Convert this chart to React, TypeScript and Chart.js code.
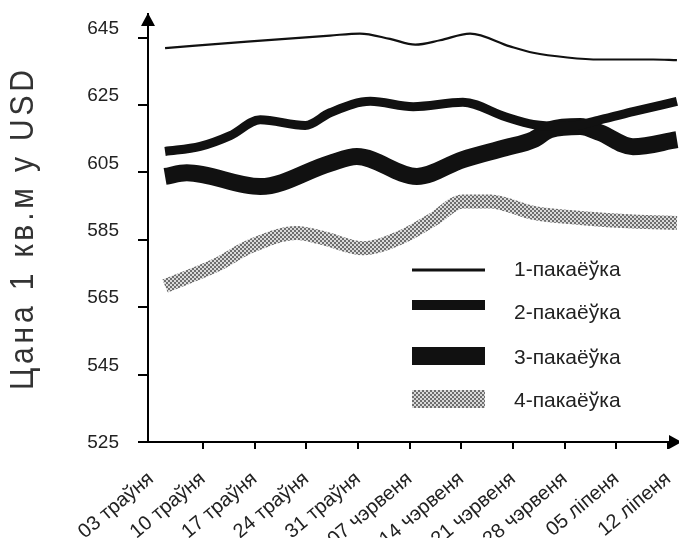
import React, { useEffect, useRef } from 'react';
import { Chart, registerables } from 'chart.js';

Chart.register(...registerables);

// ---------- data ----------
const weekLabels = [
  '03 траўня', '10 траўня', '17 траўня', '24 траўня', '31 траўня',
  '07 чэрвеня', '14 чэрвеня', '21 чэрвеня', '28 чэрвеня', '05 ліпеня', '12 ліпеня',
];
const seriesNames = ['1-пакаёўка', '2-пакаёўка', '3-пакаёўка', '4-пакаёўка'];
const yTickValues = [525, 545, 565, 585, 605, 625, 645];
const yTitle = 'Цана 1 кв.м у USD';

// x = week index since 03 траўня
const s1Weeks = [0.27, 1.86, 3.46, 4.04, 4.62, 5.11, 5.59, 6.17, 6.94, 7.39, 8.05, 8.68, 9.71, 10.17];
const s1Price = [641.9, 643.8, 645.6, 646.2, 644.6, 642.9, 644.2, 646.2, 642.4, 640.5, 639.1, 638.5, 638.5, 638.3];

const s2Weeks = [0.27, 0.95, 1.53, 2.11, 2.98, 3.46, 4.24, 5.07, 6.03, 6.85, 7.39, 8.05, 8.68, 9.32, 10.17];
const s2Price = [611.2, 612.7, 615.9, 620.6, 618.9, 622.7, 626.1, 624.5, 625.8, 621.5, 619.2, 618.6, 620.6, 623.0, 626.1];

const s3Weeks = [0.27, 0.69, 2.11, 3.46, 3.98, 5.14, 6.03, 6.85, 7.39, 7.72, 8.30, 8.68, 9.32, 10.17];
const s3Price = [603.8, 604.9, 600.8, 607.7, 609.7, 603.8, 608.8, 612.3, 614.7, 617.7, 618.6, 616.8, 612.6, 614.7];

const s4Weeks = [0.27, 1.27, 1.91, 2.82, 3.33, 4.10, 4.87, 5.45, 6.03, 6.56, 7.39, 8.35, 9.32, 10.17];
const s4Price = [571.3, 577.6, 583.0, 587.0, 585.5, 582.5, 586.0, 591.0, 596.4, 596.4, 593.0, 591.4, 590.4, 590.0];

// ---------- helpers ----------
function toPoints(xs: number[], ys: number[]) {
  return xs.map((x, i) => ({ x, y: ys[i] }));
}

function makeDither(): CanvasPattern | string {
  const c = document.createElement('canvas');
  c.width = 4;
  c.height = 4;
  const g = c.getContext('2d');
  if (!g) return '#a0a0a0';
  g.fillStyle = '#dadada';
  g.fillRect(0, 0, 4, 4);
  g.fillStyle = '#6e6e6e';
  g.fillRect(0, 0, 2, 2);
  g.fillRect(2, 2, 2, 2);
  return g.createPattern(c, 'repeat') || '#a0a0a0';
}

const FONT = '"Liberation Sans", Arial, sans-serif';

const decorPlugin = {
  id: 'decor',
  afterDraw(chart: any) {
    const ctx = chart.ctx as CanvasRenderingContext2D;
    const { left, top, right, bottom } = chart.chartArea;

    // axis arrows
    ctx.save();
    ctx.fillStyle = '#000';
    ctx.beginPath();
    ctx.moveTo(left, top - 1);
    ctx.lineTo(left - 7, top + 12);
    ctx.lineTo(left + 7, top + 12);
    ctx.closePath();
    ctx.fill();
    ctx.beginPath();
    ctx.moveTo(right + 3, bottom);
    ctx.lineTo(right - 10, bottom - 7);
    ctx.lineTo(right - 10, bottom + 7);
    ctx.closePath();
    ctx.fill();
    ctx.restore();

    // legend
    const rowY = [269, 312, 357, 400];
    const sampleDy = [1, -7, -1, -1];
    const sampleH = [3, 10, 18, 18];
    const sx0 = 412;
    const sx1 = 485;
    const tx = 514;
    ctx.save();
    chart.data.datasets.forEach((ds: any, i: number) => {
      const cy = rowY[i] + sampleDy[i];
      ctx.fillStyle = ds.borderColor;
      ctx.fillRect(sx0, cy - sampleH[i] / 2, sx1 - sx0, sampleH[i]);
      ctx.fillStyle = '#222';
      ctx.font = `21px ${FONT}`;
      ctx.textAlign = 'left';
      ctx.textBaseline = 'middle';
      ctx.fillText(ds.label, tx, rowY[i] + 1);
    });
    ctx.restore();

    // rotated, letter-spaced y title
    ctx.save();
    ctx.font = `30px ${FONT}`;
    ctx.fillStyle = '#333';
    ctx.textBaseline = 'alphabetic';
    ctx.textAlign = 'left';
    const chars = Array.from(yTitle);
    const widths = chars.map((ch) => ctx.measureText(ch).width);
    const natural = widths.reduce((a, b) => a + b, 0);
    const target = 320;
    const gap = (target - natural) / (chars.length - 1);
    ctx.translate(33, 390);
    ctx.rotate(-Math.PI / 2);
    ctx.scale(1, 1.1);
    let pos = 0;
    chars.forEach((ch, i) => {
      ctx.fillText(ch, pos, 0);
      pos += widths[i] + gap;
    });
    ctx.restore();
  },
};

export default function App() {
  const canvasRef = useRef<HTMLCanvasElement | null>(null);

  useEffect(() => {
    const canvas = canvasRef.current;
    if (!canvas) return;
    const dither = makeDither();

    const common = {
      pointRadius: 0,
      pointHoverRadius: 0,
      cubicInterpolationMode: 'monotone' as const,
      borderCapStyle: 'butt' as const,
      borderJoinStyle: 'round' as const,
      fill: false,
    };

    const chart = new Chart(canvas, {
      type: 'line',
      data: {
        datasets: [
          { ...common, label: seriesNames[0], data: toPoints(s1Weeks, s1Price), borderColor: '#111', borderWidth: 2.2 },
          { ...common, label: seriesNames[1], data: toPoints(s2Weeks, s2Price), borderColor: '#111', borderWidth: 9 },
          { ...common, label: seriesNames[2], data: toPoints(s3Weeks, s3Price), borderColor: '#111', borderWidth: 17 },
          { ...common, label: seriesNames[3], data: toPoints(s4Weeks, s4Price), borderColor: dither as any, borderWidth: 14 },
        ],
      },
      options: {
        animation: false,
        responsive: false,
        devicePixelRatio: window.devicePixelRatio || 1,
        layout: { padding: { top: 14, left: 0, right: 0, bottom: 0 } },
        plugins: {
          legend: { display: false },
          tooltip: { enabled: false },
          title: { display: false },
        },
        scales: {
          x: {
            type: 'linear',
            min: -0.06,
            max: 10.21,
            afterBuildTicks: (axis: any) => {
              axis.ticks = weekLabels.map((_, i) => ({ value: i }));
            },
            afterFit: (s: any) => {
              s.height = 96;
              s.paddingLeft = 0;
              s.paddingRight = 0;
            },
            ticks: {
              autoSkip: false,
              minRotation: 40,
              maxRotation: 40,
              padding: 18,
              color: '#222',
              font: { family: FONT, size: 20 },
              callback: (v: any) => weekLabels[Math.round(Number(v))] ?? '',
            },
            grid: {
              drawOnChartArea: false,
              drawTicks: true,
              tickLength: 7,
              lineWidth: 2,
              color: (c: any) => (c.index === 0 ? 'rgba(0,0,0,0)' : '#000'),
            },
            border: { display: true, color: '#000', width: 2 },
          },
          y: {
            type: 'linear',
            min: 525,
            max: 652,
            afterBuildTicks: (axis: any) => {
              axis.ticks = yTickValues.map((v) => ({ value: v }));
            },
            afterFit: (s: any) => {
              s.width = 148;
              s.paddingTop = 0;
              s.paddingBottom = 0;
            },
            ticks: {
              padding: 19,
              labelOffset: -9,
              color: '#222',
              font: { family: FONT, size: 19, lineHeight: 1 },
              callback: (v: any) => (Number(v) === 525 ? ['', '525'] : String(v)),
            },
            grid: {
              drawOnChartArea: false,
              drawTicks: true,
              tickLength: 10,
              lineWidth: 2,
              color: '#000',
            },
            border: { display: true, color: '#000', width: 2 },
          },
        },
      } as any,
      plugins: [decorPlugin],
    });

    return () => chart.destroy();
  }, []);

  return (
    <div style={{ position: 'fixed', left: 0, top: 0, width: 679, height: 538, background: '#fff' }}>
      <canvas ref={canvasRef} width={679} height={538} style={{ display: 'block', width: 679, height: 538 }} />
    </div>
  );
}
